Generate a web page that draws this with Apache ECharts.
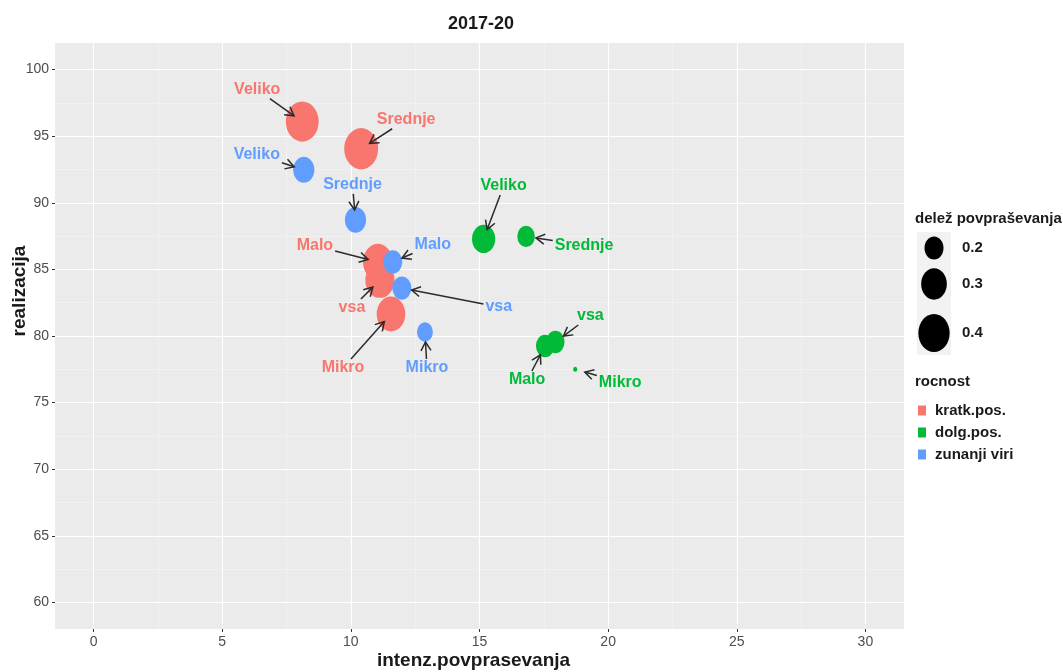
<!DOCTYPE html>
<html>
<head>
<meta charset="utf-8">
<script src="https://cdn.jsdelivr.net/npm/echarts@6/dist/echarts.min.js"></script>
<style>
html,body{margin:0;padding:0;background:#fff;}
#main{width:1063px;height:672px;}
</style>
</head>
<body>
<div id="main"></div>
<script>
// ---------------- data ----------------
const groups = ['kratk.pos.', 'dolg.pos.', 'zunanji viri'];
const pointNames = ['Veliko', 'Srednje', 'Malo', 'vsa', 'Mikro'];

const kratkX = [8.11, 10.40, 11.05, 11.13, 11.56];
const kratkY = [96.10, 94.06, 85.56, 84.20, 81.65];
const kratkShare = [0.43, 0.45, 0.37, 0.36, 0.35];

const dolgX = [15.16, 16.81, 17.55, 17.95, 18.72];
const dolgY = [87.29, 87.48, 79.25, 79.55, 77.50];
const dolgShare = [0.26, 0.18, 0.19, 0.19, 0.05];

const zunX = [8.17, 10.18, 11.63, 11.98, 12.88];
const zunY = [92.48, 88.72, 85.56, 83.60, 80.30];
const zunShare = [0.23, 0.23, 0.20, 0.20, 0.16];

const xTicks = [0, 5, 10, 15, 20, 25, 30];
const yTicks = [60, 65, 70, 75, 80, 85, 90, 95, 100];
const xMinor = [2.5, 7.5, 12.5, 17.5, 22.5, 27.5];
const yMinor = [62.5, 67.5, 72.5, 77.5, 82.5, 87.5, 92.5, 97.5];
const sizeLegendValues = [0.2, 0.3, 0.4];

// ---------------- layout / style ----------------
const FONT = '"Liberation Sans", Arial, Helvetica, sans-serif';
const COLORS = ['#F8766D', '#00BA38', '#619CFF'];
// label offsets (px) from each point centre, in pointNames order
const labelOffsets = [
  [[-45, -32], [45, -29], [-63, -16], [-28, 28], [-48, 54]],
  [[20, -53], [58, 9], [-18, 34], [35, -26], [45, 13]],
  [[-47, -15], [-3, -35], [40, -17], [97, 19], [2, 36]]
];
function sizeWH(v) {
  const h = Math.max(4.5, 81 * Math.sqrt(v) - 13);
  return [h / 1.22, h];
}

const seriesData = [
  [kratkX, kratkY, kratkShare],
  [dolgX, dolgY, dolgShare],
  [zunX, zunY, zunShare]
];

const chart = echarts.init(document.getElementById('main'), null, {renderer: 'canvas'});

const series = groups.map((g, gi) => {
  const [xs, ys, sh] = seriesData[gi];
  const off = labelOffsets[gi];
  return {
    name: g,
    type: 'scatter',
    xAxisIndex: 0,
    yAxisIndex: 0,
    data: pointNames.map((n, i) => ({name: n, value: [xs[i], ys[i], sh[i]]})),
    symbol: 'circle',
    symbolSize: v => sizeWH(v[2]),
    itemStyle: {color: COLORS[gi], opacity: 1},
    label: {
      show: true, position: 'inside', formatter: '{b}',
      color: COLORS[gi], fontSize: 16, fontWeight: 'bold', fontFamily: FONT
    },
    labelLayout: p => ({
      x: p.rect.x + p.rect.width / 2 + off[p.dataIndex][0],
      y: p.rect.y + p.rect.height / 2 + off[p.dataIndex][1],
      align: 'center', verticalAlign: 'middle'
    }),
    emphasis: {disabled: true},
    animation: false
  };
});

const axisLabelStyle = {color: '#4D4D4D', fontSize: 14, fontFamily: FONT};

const option = {
  animation: false,
  backgroundColor: '#ffffff',
  color: COLORS,
  title: {
    text: '2017-20', left: 448, top: 15, padding: 0,
    textStyle: {fontSize: 18, fontWeight: 'bold', color: '#1A1A1A', fontFamily: FONT}
  },
  legend: {
    data: groups,
    orient: 'vertical',
    left: 918, top: 402,
    itemWidth: 8, itemHeight: 10, itemGap: 5,
    icon: 'rect',
    selectedMode: false,
    padding: 0,
    textStyle: {fontSize: 15, fontWeight: 'bold', color: '#1A1A1A', fontFamily: FONT, lineHeight: 17, padding: [0, 0, 0, 4]}
  },
  grid: {
    left: 55, top: 43, width: 849, height: 586,
    show: true, backgroundColor: '#EBEBEB', borderWidth: 0,
    containLabel: false,
    outerBoundsMode: 'none'
  },
  xAxis: [{
    type: 'value', min: -1.5, max: 31.5,
    name: 'intenz.povprasevanja', nameLocation: 'middle', nameGap: 22, nameMoveOverlap: false,
    nameTextStyle: {fontSize: 19, fontWeight: 'bold', color: '#1A1A1A', fontFamily: FONT, padding: [0, 12, 0, 0]},
    axisLine: {show: false, onZero: false},
    axisTick: {show: true, length: 3, lineStyle: {color: '#333'}, customValues: xTicks},
    axisLabel: Object.assign({margin: 6, customValues: xTicks}, axisLabelStyle),
    splitLine: {show: true, lineStyle: {color: '#FFFFFF', width: 1.1}}
  }, {
    type: 'value', min: -1.5, max: 31.5, gridIndex: 0, position: 'top',
    axisLine: {show: false, onZero: false},
    axisTick: {show: false, customValues: xMinor},
    axisLabel: {show: false, customValues: xMinor},
    splitLine: {show: true, lineStyle: {color: '#F5F5F5', width: 0.6}}
  }],
  yAxis: [{
    type: 'value', min: 58, max: 102,
    name: 'realizacija', nameLocation: 'middle', nameGap: 26, nameMoveOverlap: false,
    nameTextStyle: {fontSize: 19, fontWeight: 'bold', color: '#1A1A1A', fontFamily: FONT, padding: [0, 0, 0, 90]},
    axisLine: {show: false, onZero: false},
    axisTick: {show: true, length: 3, lineStyle: {color: '#333'}, customValues: yTicks},
    axisLabel: Object.assign({margin: 6, customValues: yTicks}, axisLabelStyle),
    splitLine: {show: true, lineStyle: {color: '#FFFFFF', width: 1.1}}
  }, {
    type: 'value', min: 58, max: 102, gridIndex: 0, position: 'right',
    axisLine: {show: false, onZero: false},
    axisTick: {show: false, customValues: yMinor},
    axisLabel: {show: false, customValues: yMinor},
    splitLine: {show: true, lineStyle: {color: '#F5F5F5', width: 0.6}}
  }],
  series: series
};
chart.setOption(option);

// ---------------- arrows (ggrepel-style) & size legend ----------------
const cv = document.createElement('canvas').getContext('2d');
cv.font = 'bold 16px ' + FONT;
const graphics = [];
groups.forEach((g, gi) => {
  const [xs, ys] = seriesData[gi];
  pointNames.forEach((n, i) => {
    const P = chart.convertToPixel({xAxisIndex: 0, yAxisIndex: 0}, [xs[i], ys[i]]);
    const off = labelOffsets[gi][i];
    const L = [P[0] + off[0], P[1] + off[1]];
    const dx = P[0] - L[0], dy = P[1] - L[1];
    const len = Math.hypot(dx, dy);
    const hw = cv.measureText(n).width / 2 + 2, hh = 9;
    const t = Math.min(dx !== 0 ? hw / Math.abs(dx) : Infinity, dy !== 0 ? hh / Math.abs(dy) : Infinity);
    const S = [L[0] + dx * t, L[1] + dy * t];
    const ux = dx / len, uy = dy / len;
    const pad = 10;
    const E = [P[0] - ux * pad, P[1] - uy * pad];
    if (Math.hypot(E[0] - S[0], E[1] - S[1]) < 3) return;
    graphics.push({
      type: 'polyline', z: 5, silent: true,
      shape: {points: [S, E]},
      style: {stroke: '#2B2B2B', lineWidth: 1.5, fill: null}
    });
    const ah = 10, ang = Math.PI / 6;
    const bx = -ux, by = -uy;
    const a1 = [E[0] + ah * (bx * Math.cos(ang) - by * Math.sin(ang)), E[1] + ah * (bx * Math.sin(ang) + by * Math.cos(ang))];
    const a2 = [E[0] + ah * (bx * Math.cos(-ang) - by * Math.sin(-ang)), E[1] + ah * (bx * Math.sin(-ang) + by * Math.cos(-ang))];
    graphics.push({
      type: 'polyline', z: 5, silent: true,
      shape: {points: [a1, E, a2]},
      style: {stroke: '#2B2B2B', lineWidth: 1.5, fill: null}
    });
  });
});

// size legend
graphics.push({
  type: 'text', left: 915, top: 211, silent: true,
  style: {text: 'delež povpraševanja', fontSize: 15, fontWeight: 'bold', fill: '#1A1A1A', fontFamily: FONT}
});
graphics.push({
  type: 'rect', silent: true, z: 1,
  shape: {x: 917, y: 232, width: 34, height: 123},
  style: {fill: '#F2F2F2'}
});
const legendCy = [248, 284, 333];
sizeLegendValues.forEach((v, i) => {
  const wh = sizeWH(v);
  graphics.push({
    type: 'ellipse', silent: true, z: 2,
    shape: {cx: 934, cy: legendCy[i], rx: wh[0] / 2, ry: wh[1] / 2},
    style: {fill: '#000000'}
  });
  graphics.push({
    type: 'text', silent: true, z: 2,
    x: 962, y: legendCy[i],
    style: {text: String(v), fontSize: 15, fontWeight: 'bold', fill: '#1A1A1A', fontFamily: FONT, verticalAlign: 'middle', align: 'left'}
  });
});
graphics.push({
  type: 'text', left: 915, top: 374, silent: true,
  style: {text: 'rocnost', fontSize: 15, fontWeight: 'bold', fill: '#1A1A1A', fontFamily: FONT}
});

chart.setOption({graphic: graphics});
</script>
</body>
</html>
